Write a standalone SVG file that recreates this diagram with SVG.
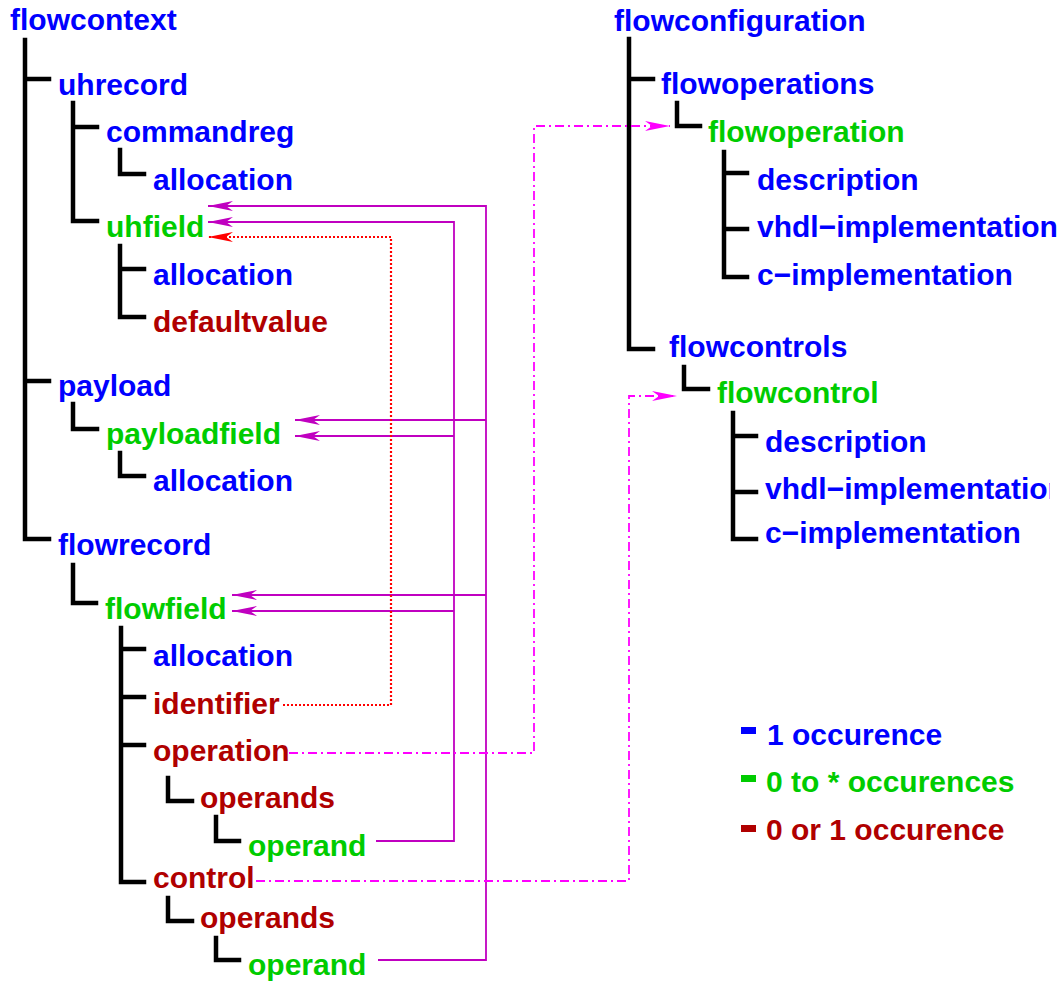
<svg xmlns="http://www.w3.org/2000/svg" width="1062" height="982" viewBox="0 0 1062 982">
<style>
text{font-family:"Liberation Sans",Arial,Helvetica,sans-serif;font-weight:bold;font-size:30px}
.b{fill:#0000ff}.g{fill:#00cc00}.r{fill:#b00000}
.t{fill:none;stroke:#000;stroke-width:4.5;stroke-linecap:square;stroke-linejoin:miter}
.m{fill:none;stroke:#c000c0;stroke-width:1.8}
.d{fill:none;stroke:#ff0000;stroke-width:2.2;stroke-dasharray:2,2}
.c{fill:none;stroke:#ff00ff;stroke-width:1.8;stroke-dasharray:9,4,2,4}
</style>
<defs>
<marker id="am" markerUnits="userSpaceOnUse" markerWidth="26" markerHeight="12" viewBox="0 0 26 12" refX="25" refY="6" orient="auto"><path d="M0,1 L25,6 L0,11 L7,6 Z" fill="#c000c0"/></marker>
<marker id="ar" markerUnits="userSpaceOnUse" markerWidth="26" markerHeight="12" viewBox="0 0 26 12" refX="25" refY="6" orient="auto"><path d="M0,1 L25,6 L0,11 L7,6 Z" fill="#ff0000"/></marker>
<marker id="ac" markerUnits="userSpaceOnUse" markerWidth="26" markerHeight="12" viewBox="0 0 26 12" refX="25" refY="6" orient="auto"><path d="M0,1 L25,6 L0,11 L7,6 Z" fill="#ff00ff"/></marker>
<clipPath id="clipR"><rect x="0" y="0" width="1050" height="982"/></clipPath>
</defs>
<rect width="1062" height="982" fill="#fff"/>
<g id="connectors">
<g id="tree-lines">
<path class="t" d="M25,40 V539 H49 M25,79 H49 M25,381 H49"/>
<path class="t" d="M73,103 V221 H97 M73,127 H97"/>
<path class="t" d="M120,150 V174 H144"/>
<path class="t" d="M120,246 V317 H144 M120,269 H144"/>
<path class="t" d="M73,404 V429 H97"/>
<path class="t" d="M120,453 V476 H144"/>
<path class="t" d="M73,565 V603 H96"/>
<path class="t" d="M121,628 V882 H144 M121,649 H144 M121,697 H144 M121,745 H144"/>
<path class="t" d="M168,778 V801 H192"/>
<path class="t" d="M216,817 V841 H239"/>
<path class="t" d="M168,898 V921 H192"/>
<path class="t" d="M216,938 V960 H239"/>
<path class="t" d="M629,39 V349 H653 M629,79 H653"/>
<path class="t" d="M677,103 V126 H700"/>
<path class="t" d="M724,152 V277 H747 M724,173 H747 M724,229 H747"/>
<path class="t" d="M684,367 V389 H708"/>
<path class="t" d="M733,413 V539 H756 M733,436 H756 M733,492 H756"/>
</g>
<g id="refs">
<path class="m" d="M378,960 H486 V206 H208" marker-end="url(#am)"/>
<path class="m" d="M486,420 H295" marker-end="url(#am)"/>
<path class="m" d="M486,595 H232" marker-end="url(#am)"/>
<path class="m" d="M376,841 H454 V222 H208" marker-end="url(#am)"/>
<path class="m" d="M454,436 H295" marker-end="url(#am)"/>
<path class="m" d="M454,611 H232" marker-end="url(#am)"/>
<path class="d" d="M283,705 H391 V237 H208" marker-end="url(#ar)"/>
<path class="c" d="M289,753 H534 V126 H670" marker-end="url(#ac)"/>
<path class="c" d="M256,881 H629 V396 H677" marker-end="url(#ac)"/>
</g>
</g>
<g id="n-flowcontext"><text class="b" x="10" y="30">flowcontext</text></g>
<g id="n-uhrecord"><text class="b" x="58" y="95">uhrecord</text></g>
<g id="n-commandreg"><text class="b" x="106" y="142">commandreg</text></g>
<g id="n-commandreg-allocation"><text class="b" x="153" y="190">allocation</text></g>
<g id="n-uhfield"><text class="g" x="106" y="237">uhfield</text></g>
<g id="n-uhfield-allocation"><text class="b" x="153" y="285">allocation</text></g>
<g id="n-defaultvalue"><text class="r" x="153" y="332">defaultvalue</text></g>
<g id="n-payload"><text class="b" x="58" y="396">payload</text></g>
<g id="n-payloadfield"><text class="g" x="106" y="444">payloadfield</text></g>
<g id="n-payloadfield-allocation"><text class="b" x="153" y="491">allocation</text></g>
<g id="n-flowrecord"><text class="b" x="58" y="555">flowrecord</text></g>
<g id="n-flowfield"><text class="g" x="105" y="619">flowfield</text></g>
<g id="n-flowfield-allocation"><text class="b" x="153" y="666">allocation</text></g>
<g id="n-identifier"><text class="r" x="153" y="714">identifier</text></g>
<g id="n-operation"><text class="r" x="153" y="761">operation</text></g>
<g id="n-operation-operands"><text class="r" x="200" y="808">operands</text></g>
<g id="n-operation-operand"><text class="g" x="248" y="856">operand</text></g>
<g id="n-control"><text class="r" x="153" y="888">control</text></g>
<g id="n-control-operands"><text class="r" x="200" y="928">operands</text></g>
<g id="n-control-operand"><text class="g" x="248" y="975">operand</text></g>
<g id="n-flowconfiguration"><text class="b" x="614" y="31">flowconfiguration</text></g>
<g id="n-flowoperations"><text class="b" x="661" y="94">flowoperations</text></g>
<g id="n-flowoperation"><text class="g" x="708" y="142">flowoperation</text></g>
<g id="n-op-description"><text class="b" x="757" y="190">description</text></g>
<g id="n-op-vhdl"><text class="b" x="757" y="237">vhdl−implementation</text></g>
<g id="n-op-c"><text class="b" x="757" y="285">c−implementation</text></g>
<g id="n-flowcontrols"><text class="b" x="669" y="357">flowcontrols</text></g>
<g id="n-flowcontrol"><text class="g" x="717" y="403">flowcontrol</text></g>
<g id="n-ct-description"><text class="b" x="765" y="452">description</text></g>
<g id="n-ct-vhdl"><text class="b" x="765" y="499" clip-path="url(#clipR)">vhdl−implementation</text></g>
<g id="n-ct-c"><text class="b" x="765" y="543">c−implementation</text></g>
<g id="legend">
<rect x="741" y="727" width="15" height="7" fill="#0000ff"/>
<text class="b" x="767" y="745">1 occurence</text>
<rect x="741" y="775" width="15" height="7" fill="#00cc00"/>
<text class="g" x="766" y="792">0 to * occurences</text>
<rect x="741" y="825" width="15" height="7" fill="#b00000"/>
<text class="r" x="766" y="840">0 or 1 occurence</text>
</g>
</svg>
